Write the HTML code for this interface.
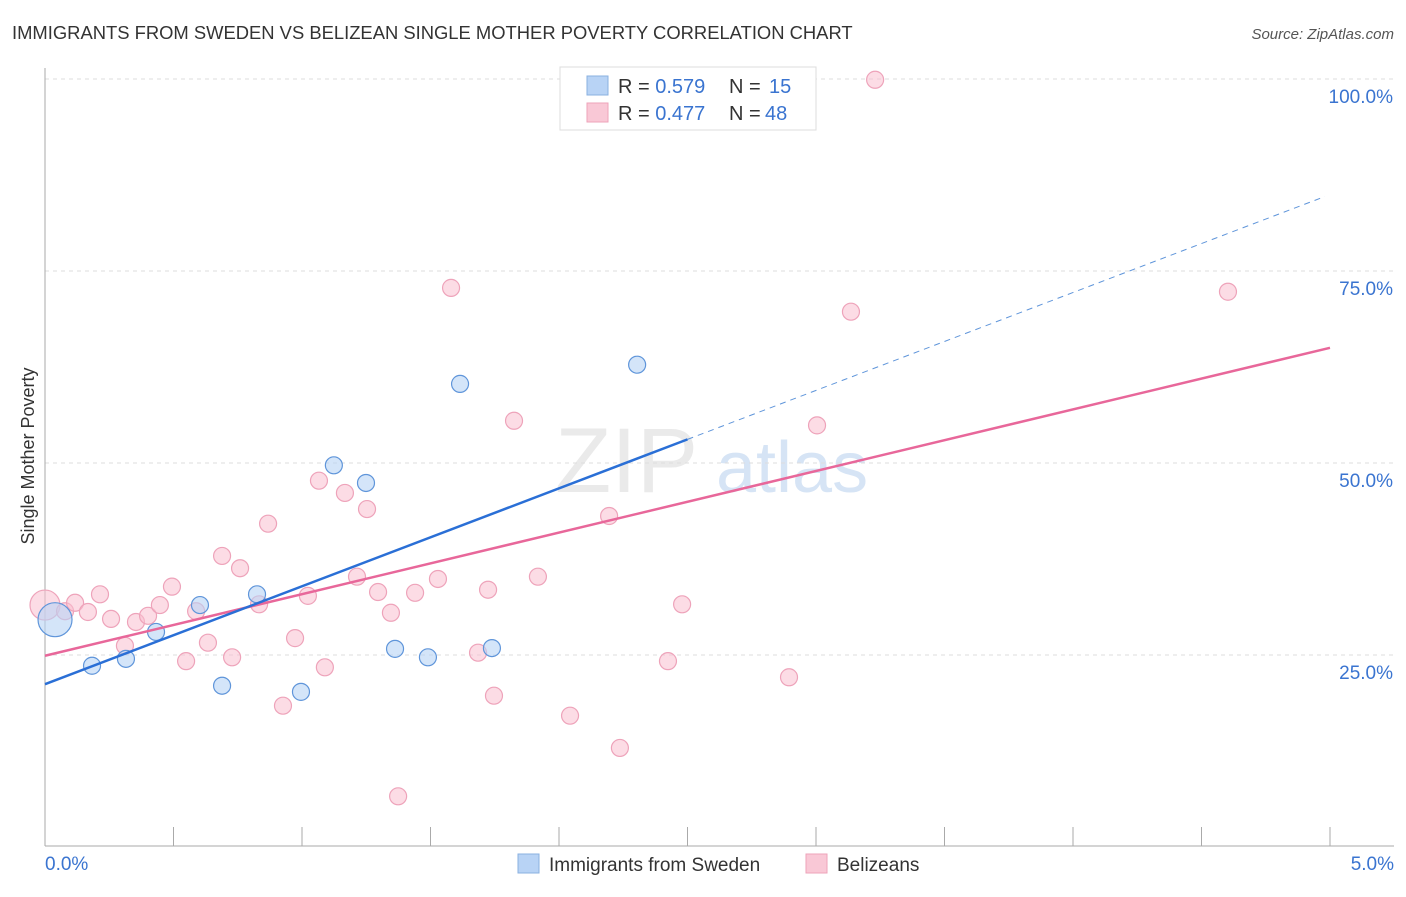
<!DOCTYPE html>
<html><head><meta charset="utf-8"><style>
body{margin:0;background:#fff;font-family:"Liberation Sans",sans-serif;}
svg text{font-family:"Liberation Sans",sans-serif;}
</style></head><body>
<svg id="chart" width="1406" height="892" xmlns="http://www.w3.org/2000/svg">
<text x="12" y="39" font-size="18.4" fill="#333">IMMIGRANTS FROM SWEDEN VS BELIZEAN SINGLE MOTHER POVERTY CORRELATION CHART</text>
<text x="1394" y="39" font-size="15" fill="#555" text-anchor="end" font-style="italic">Source: ZipAtlas.com</text>
<text transform="translate(34,456) rotate(-90)" font-size="18" fill="#333" text-anchor="middle">Single Mother Poverty</text>
<g><text x="555" y="492" font-size="92" fill="#ddd" font-family="Liberation Serif" opacity="0.6">ZIP</text><text x="716" y="492" font-size="72" fill="#bcd3ef" opacity="0.6">atlas</text></g>
<g id="grid"></g><g id="axes"></g><g id="marks"></g>
<g>
<rect x="560" y="67" width="256" height="63" fill="#fff" stroke="#ddd"/>
<rect x="587" y="76" width="21" height="19" fill="#b8d3f5" stroke="#8ab0e0"/>
<rect x="587" y="103" width="21" height="19" fill="#f9c8d6" stroke="#eea3ba"/>
<text x="618" y="93" font-size="20" fill="#333">R = <tspan fill="#3a74d0">0.579</tspan></text>
<text x="729" y="93" font-size="20" fill="#333">N =</text>
<text x="769" y="93" font-size="20" fill="#3a74d0">15</text>
<text x="618" y="120" font-size="20" fill="#333">R = <tspan fill="#3a74d0">0.477</tspan></text>
<text x="729" y="120" font-size="20" fill="#333">N =</text>
<text x="765" y="120" font-size="20" fill="#3a74d0">48</text>
</g>
<g>
<rect x="518" y="854" width="21" height="19" fill="#b8d3f5" stroke="#8ab0e0"/>
<text x="549" y="871" font-size="19" fill="#333">Immigrants from Sweden</text>
<rect x="806" y="854" width="21" height="19" fill="#f9c8d6" stroke="#eea3ba"/>
<text x="837" y="871" font-size="19" fill="#333">Belizeans</text>
</g>
</svg>
<script>
const blueX=[0.039,0.183,0.315,0.432,0.603,0.689,0.825,0.996,1.124,1.249,1.362,1.490,1.615,1.739,2.304];
const blueY=[29.6,23.6,24.5,28.0,31.5,21.0,32.9,20.2,49.7,47.4,25.8,24.7,60.3,25.9,62.8];
const pinkX=[0,0.078,0.117,0.167,0.214,0.257,0.311,0.354,0.401,0.447,0.494,0.549,0.588,0.634,0.689,0.728,0.759,0.833,0.868,0.926,0.973,1.023,1.066,1.089,1.167,1.214,1.253,1.296,1.346,1.374,1.440,1.529,1.580,1.685,1.724,1.747,1.825,1.918,2.043,2.195,2.237,2.424,2.479,2.895,3.004,3.136,3.230,4.603];
const pinkY=[31.5,30.7,31.8,30.6,32.9,29.7,26.2,29.3,30.1,31.5,33.9,24.2,30.7,26.6,37.9,24.7,36.3,31.6,42.1,18.4,27.2,32.7,47.7,23.4,46.1,35.2,44.0,33.2,30.5,6.6,33.1,34.9,72.8,25.3,33.5,19.7,55.5,35.2,17.1,43.1,12.9,24.2,31.6,22.1,54.9,69.7,99.9,72.3];
const yTicks=[25,50,75,100];
const xTicks=[0,0.5,1,1.5,2,2.5,3,3.5,4,4.5,5];
const blueFit=[21.2,12.75];
const pinkFit=[24.9,8.02];
const NS="http://www.w3.org/2000/svg";
const sx=v=>45+v*257, sy=v=>847-v*7.68;
function mk(p,t,a){const e=document.createElementNS(NS,t);for(const k in a)e.setAttribute(k,a[k]);p.appendChild(e);return e;}
const grid=document.getElementById('grid'),axes=document.getElementById('axes'),marks=document.getElementById('marks');
yTicks.forEach(t=>{const l=mk(grid,'line',{x1:45,x2:1394,y1:sy(t),y2:sy(t),stroke:'#ddd','stroke-dasharray':'4,4'});


const tx=mk(axes,'text',{x:1393,y:sy(t)+24,'font-size':19,fill:'#3a74d0','text-anchor':'end'});tx.textContent=t.toFixed(1)+'%';

});
mk(axes,'line',{x1:45,x2:45,y1:68,y2:846,stroke:'#aaa'});
mk(axes,'line',{x1:45,x2:1394,y1:846,y2:846,stroke:'#aaa'});
xTicks.forEach(t=>{const l=mk(axes,'line',{x1:sx(t),x2:sx(t),y1:827,y2:846,stroke:'#aaa'});

});
[[0,45,'start'],[5,1394,'end']].forEach(([v,x,a])=>{const tx=mk(axes,'text',{x:x,y:870,'font-size':19,fill:'#3a74d0','text-anchor':a});tx.textContent=v.toFixed(1)+'%';

});
pinkX.forEach((x,i)=>{const c=mk(marks,'circle',{cx:sx(x),cy:sy(pinkY[i]),r:i==0?15:8.5,fill:'#f9c0d0','fill-opacity':0.55,stroke:'#eea3ba','stroke-width':1.2});

});
blueX.forEach((x,i)=>{const c=mk(marks,'circle',{cx:sx(x),cy:sy(blueY[i]),r:i==0?17:8.5,fill:'#b8d3f5','fill-opacity':0.6,stroke:'#5f95da','stroke-width':1.2});

});
const fy=(f,x)=>sy(f[0]+f[1]*x);
let l=mk(marks,'line',{x1:sx(0),y1:fy(pinkFit,0),x2:sx(5),y2:fy(pinkFit,5),stroke:'#e8679a','stroke-width':2.5});


l=mk(marks,'line',{x1:sx(0),y1:fy(blueFit,0),x2:sx(2.5),y2:fy(blueFit,2.5),stroke:'#2a6fd6','stroke-width':2.5});


l=mk(marks,'line',{x1:sx(2.5),y1:fy(blueFit,2.5),x2:sx(4.98),y2:fy(blueFit,4.98),stroke:'#5f95da','stroke-width':1,'stroke-dasharray':'6,5'});


</script>
</body></html>
